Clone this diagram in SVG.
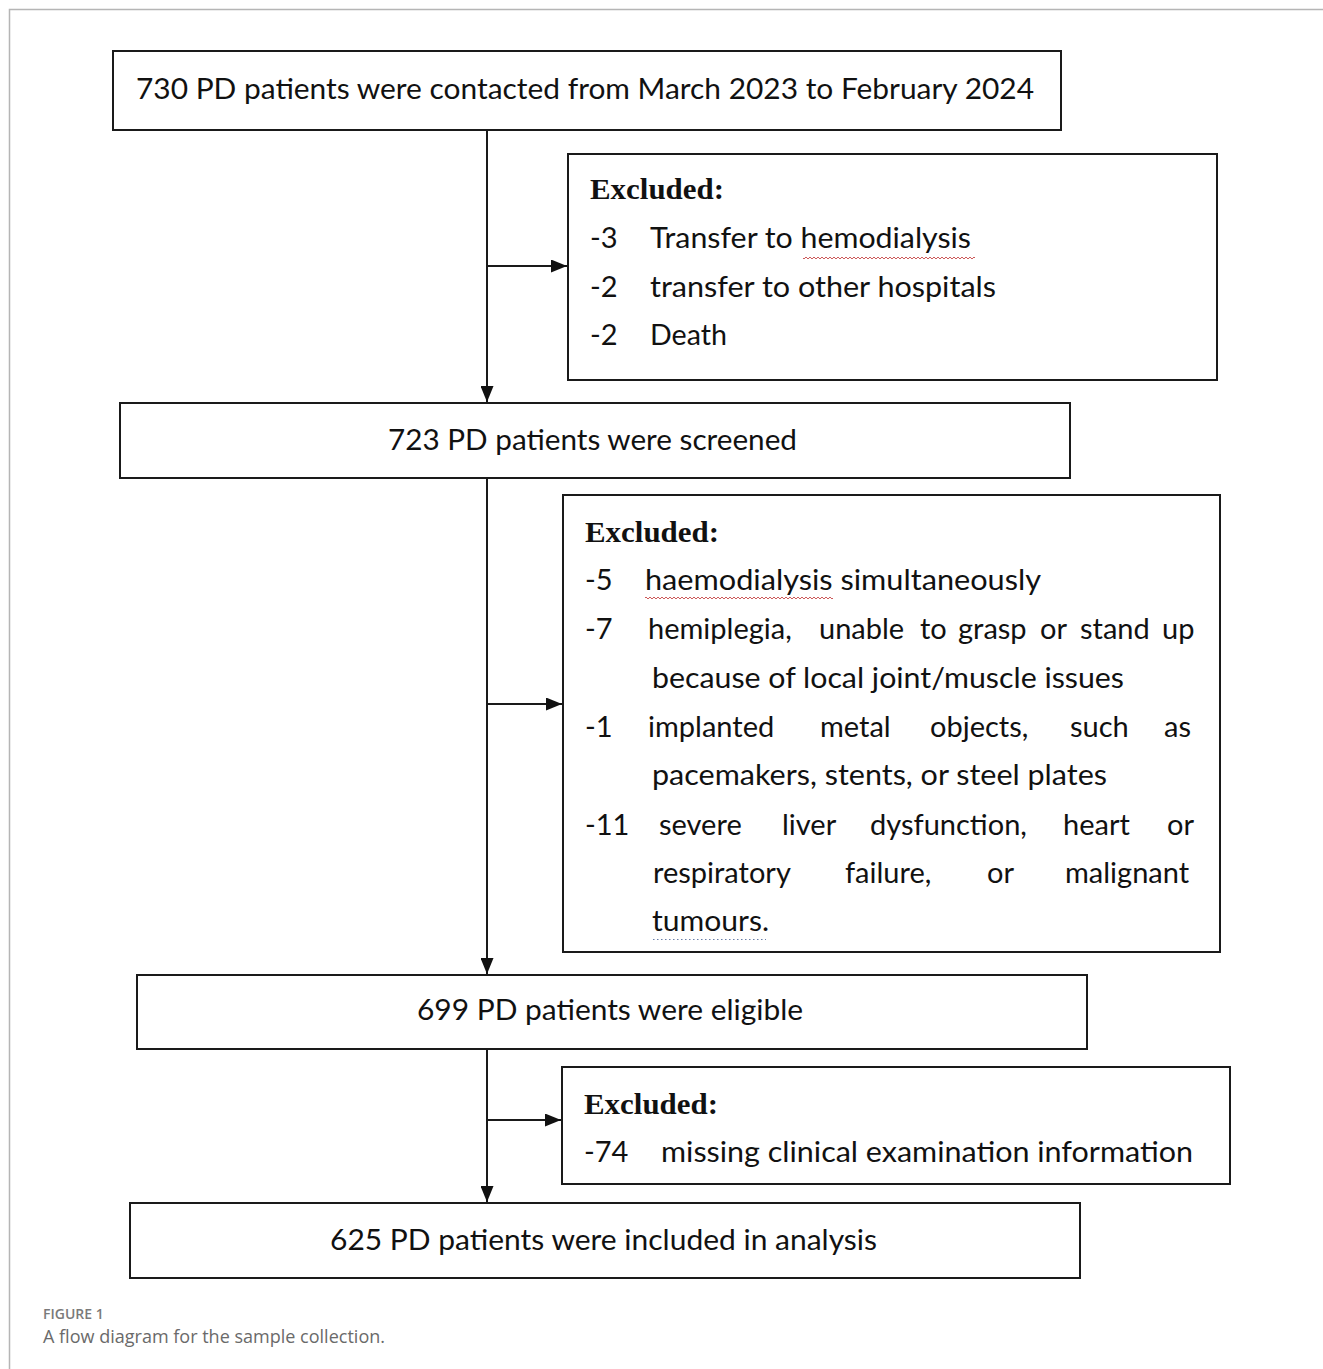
<svg xmlns="http://www.w3.org/2000/svg" width="1323" height="1369" viewBox="0 0 1323 1369">
<style>
.box{fill:#fff;stroke:#1a1a1a;stroke-width:2}
.main{font-family:Lato,"Liberation Sans",sans-serif;font-size:29px;fill:#111;text-anchor:middle}
.item{font-family:Lato,"Liberation Sans",sans-serif;font-size:29px;fill:#111}
.hd{font-family:"Liberation Serif","Times New Roman",serif;font-size:30px;font-weight:bold;fill:#111}
.conn{stroke:#1a1a1a;stroke-width:2;fill:none}
.cap1{font-family:"Open Sans","Liberation Sans",sans-serif;font-size:14px;font-weight:600;fill:#7a7a7a}
.cap2{font-family:"Open Sans","Liberation Sans",sans-serif;font-size:18px;fill:#6a6a6a}
</style>
<defs>
<marker id="ah" viewBox="0 0 16 13" refX="16" refY="6.5" markerWidth="16" markerHeight="13" markerUnits="userSpaceOnUse" orient="auto" preserveAspectRatio="none">
<path d="M0 0 L16 6.5 L0 13 Z" fill="#111"/>
</marker>
<pattern id="wave" width="4" height="4" patternUnits="userSpaceOnUse">
<path d="M0 3 L2 1 L4 3" stroke="#c03030" stroke-width="0.8" fill="none"/>
</pattern>
</defs>
<rect x="0" y="0" width="1323" height="1369" fill="#fff"/>
<path d="M9.5 1369 V9.5 H1323" stroke="#b5b5b5" stroke-width="1.5" fill="none"/>

<g id="connectors">
<line class="conn" x1="487" y1="130" x2="487" y2="402" marker-end="url(#ah)"/>
<line class="conn" x1="487" y1="266" x2="567" y2="266" marker-end="url(#ah)"/>
<line class="conn" x1="487" y1="478" x2="487" y2="974" marker-end="url(#ah)"/>
<line class="conn" x1="487" y1="704" x2="562" y2="704" marker-end="url(#ah)"/>
<line class="conn" x1="487" y1="1049" x2="487" y2="1202" marker-end="url(#ah)"/>
<line class="conn" x1="487" y1="1120" x2="561" y2="1120" marker-end="url(#ah)"/>
</g>

<g id="n1">
<rect class="box" x="113" y="51" width="948" height="79"/>
<text class="main" x="585" y="99" textLength="898" lengthAdjust="spacingAndGlyphs">730 PD patients were contacted from March 2023 to February 2024</text>
</g>

<g id="ex1">
<rect class="box" x="568" y="154" width="649" height="226"/>
<text class="hd" x="590" y="199" textLength="134" lengthAdjust="spacingAndGlyphs">Excluded:</text>
<text class="item" x="590" y="248">-3</text>
<text class="item" x="650" y="248" textLength="321" lengthAdjust="spacingAndGlyphs">Transfer to hemodialysis</text>
<rect x="803" y="256" width="172" height="4" fill="url(#wave)"/>
<text class="item" x="590" y="297">-2</text>
<text class="item" x="650" y="297" textLength="346" lengthAdjust="spacingAndGlyphs">transfer to other hospitals</text>
<text class="item" x="590" y="345">-2</text>
<text class="item" x="650" y="345" textLength="77" lengthAdjust="spacingAndGlyphs">Death</text>
</g>

<g id="n2">
<rect class="box" x="120" y="403" width="950" height="75"/>
<text class="main" x="592.5" y="450" textLength="409" lengthAdjust="spacingAndGlyphs">723 PD patients were screened</text>
</g>

<g id="ex2">
<rect class="box" x="563" y="495" width="657" height="457"/>
<text class="hd" x="585" y="542" textLength="134" lengthAdjust="spacingAndGlyphs">Excluded:</text>
<text class="item" x="585" y="590">-5</text>
<text class="item" x="645" y="590" textLength="396" lengthAdjust="spacingAndGlyphs">haemodialysis simultaneously</text>
<rect x="645" y="596" width="188" height="4" fill="url(#wave)"/>
<text class="item" x="585" y="639">-7</text>
<text class="item" y="639"><tspan x="648">hemiplegia,</tspan> <tspan x="819">unable</tspan> <tspan x="920">to</tspan> <tspan x="958">grasp</tspan> <tspan x="1040">or</tspan> <tspan x="1080">stand</tspan> <tspan x="1162">up</tspan></text>
<text class="item" x="652" y="688" textLength="472" lengthAdjust="spacingAndGlyphs">because of local joint/muscle issues</text>
<text class="item" x="585" y="737">-1</text>
<text class="item" y="737"><tspan x="648">implanted</tspan> <tspan x="820">metal</tspan> <tspan x="930">objects,</tspan> <tspan x="1070">such</tspan> <tspan x="1164">as</tspan></text>
<text class="item" x="652" y="785" textLength="455" lengthAdjust="spacingAndGlyphs">pacemakers, stents, or steel plates</text>
<text class="item" x="585" y="835">-11</text>
<text class="item" y="835"><tspan x="659">severe</tspan> <tspan x="782">liver</tspan> <tspan x="870">dysfunction,</tspan> <tspan x="1063">heart</tspan> <tspan x="1167">or</tspan></text>
<text class="item" y="883"><tspan x="653">respiratory</tspan> <tspan x="845">failure,</tspan> <tspan x="987">or</tspan> <tspan x="1065">malignant</tspan></text>
<text class="item" x="652" y="931" textLength="117" lengthAdjust="spacingAndGlyphs">tumours.</text>
<line x1="653" y1="939.5" x2="766" y2="939.5" stroke="#6a7fa8" stroke-width="1.2" stroke-dasharray="1.5 2.5"/>
</g>

<g id="n3">
<rect class="box" x="137" y="975" width="950" height="74"/>
<text class="main" x="610" y="1020" textLength="386" lengthAdjust="spacingAndGlyphs">699 PD patients were eligible</text>
</g>

<g id="ex3">
<rect class="box" x="562" y="1067" width="668" height="117"/>
<text class="hd" x="584" y="1114" textLength="134" lengthAdjust="spacingAndGlyphs">Excluded:</text>
<text class="item" x="584" y="1162">-74</text>
<text class="item" x="661" y="1162" textLength="532" lengthAdjust="spacingAndGlyphs">missing clinical examination information</text>
</g>

<g id="n4">
<rect class="box" x="130" y="1203" width="950" height="75"/>
<text class="main" x="603.5" y="1250" textLength="547" lengthAdjust="spacingAndGlyphs">625 PD patients were included in analysis</text>
</g>

<g id="caption">
<text class="cap1" x="43" y="1319">FIGURE 1</text>
<text class="cap2" x="43" y="1343" textLength="342" lengthAdjust="spacingAndGlyphs">A flow diagram for the sample collection.</text>
</g>
</svg>
